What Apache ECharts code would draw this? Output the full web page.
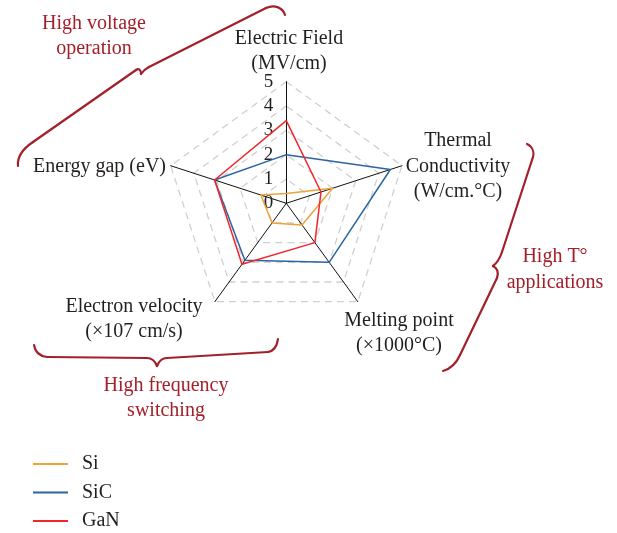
<!DOCTYPE html>
<html>
<head>
<meta charset="utf-8">
<script src="https://cdn.jsdelivr.net/npm/echarts@6/dist/echarts.min.js"></script>
<style>
  html, body { margin: 0; padding: 0; background: #fff; }
  #chart { width: 617px; height: 533px; }
</style>
</head>
<body>
<div id="chart"></div>
<script>
// Radar axes, listed counter-clockwise from the top spoke
const indicators = ['Electric Field', 'Energy gap', 'Electron velocity', 'Melting point', 'Thermal Conductivity'];
const axisMax = 5;
const tickValues = [0, 1, 2, 3, 4, 5];

// Material properties (same order as indicators)
const materials = ['Si', 'SiC', 'GaN'];
const siValues  = [0.4, 1.1, 1.0, 1.1, 2.0];
const sicValues = [2.0, 3.1, 2.9, 3.0, 4.5];
const ganValues = [3.4, 3.1, 3.1, 2.0, 1.5];

// Axis titles (multi-line) and application groups
const axisTitles = {
  'Electric Field': ['Electric Field', '(MV/cm)'],
  'Energy gap': ['Energy gap (eV)'],
  'Electron velocity': ['Electron velocity', '(\u00d7107 cm/s)'],
  'Melting point': ['Melting point', '(\u00d71000\u00b0C)'],
  'Thermal Conductivity': ['Thermal', 'Conductivity', '(W/cm.\u00b0C)']
};
const groupTitles = {
  voltage: ['High voltage', 'operation'],
  temperature: ['High T\u00b0', 'applications'],
  frequency: ['High frequency', 'switching']
};

const colors = { Si: '#f0a23a', SiC: '#2b65a0', GaN: '#f0262a' };
const accent = '#a3202a';
const ink = '#231f20';
const FONT = '"Liberation Serif", "DejaVu Serif", serif';

const cx = 286.3, cy = 203.3, R = 121.6;

function textBlock(lines, x, y, opts) {
  const lh = (opts && opts.lineHeight) || 24.5;
  return lines.map((t, i) => ({
    type: 'text',
    x: x,
    y: y + i * lh,
    silent: true,
    style: {
      text: t,
      font: '20px ' + FONT,
      fill: (opts && opts.fill) || ink,
      align: (opts && opts.align) || 'center',
      verticalAlign: 'middle'
    }
  }));
}

// Curly brace built from straight and cubic segments
function brace(segs) {
  const out = [];
  const style = { fill: 'none', stroke: accent, lineWidth: 2.2, lineCap: 'round' };
  let px = 0, py = 0;
  segs.forEach(s => {
    if (s[0] === 'M') { px = s[1]; py = s[2]; return; }
    if (s[0] === 'L') {
      out.push({ type: 'line', silent: true, shape: { x1: px, y1: py, x2: s[1], y2: s[2] }, style: style });
      px = s[1]; py = s[2];
    } else if (s[0] === 'C') {
      out.push({ type: 'bezierCurve', silent: true,
        shape: { x1: px, y1: py, cpx1: s[1], cpy1: s[2], cpx2: s[3], cpy2: s[4], x2: s[5], y2: s[6] },
        style: style });
      px = s[5]; py = s[6];
    }
  });
  return out;
}

const graphics = []
  .concat(textBlock(axisTitles['Electric Field'], 289, 39))
  .concat(textBlock(axisTitles['Energy gap'], 166, 167, { align: 'right' }))
  .concat(textBlock(axisTitles['Electron velocity'], 134, 307))
  .concat(textBlock(axisTitles['Melting point'], 399, 321))
  .concat(textBlock(axisTitles['Thermal Conductivity'], 458, 141, { lineHeight: 25.5 }))
  .concat(textBlock(groupTitles.voltage, 94, 24, { fill: accent }))
  .concat(textBlock(groupTitles.temperature, 555, 257, { fill: accent, lineHeight: 26 }))
  .concat(textBlock(groupTitles.frequency, 166, 386, { fill: accent }))
  // brace above the energy gap / electric field corner
  .concat(brace([['M', 18, 166], ['C', 17, 156, 24, 148, 33, 142], ['L', 136, 70],
                 ['C', 139, 68, 141, 70, 141, 74], ['C', 143, 71, 145, 69, 149, 67],
                 ['L', 266, 8], ['C', 275, 4, 283, 8, 285, 15]]))
  // brace beside thermal conductivity / melting point
  .concat(brace([['M', 527, 144], ['C', 533, 147, 535, 153, 532, 160], ['L', 502, 252],
                 ['C', 500, 258, 497, 263, 493, 266], ['C', 497, 268, 499, 272, 497, 278],
                 ['L', 460, 355], ['C', 456, 364, 450, 369, 443, 371]]))
  // brace under electron velocity
  .concat(brace([['M', 34, 345], ['C', 35, 352, 39, 356, 47, 357], ['L', 147, 358],
                 ['C', 152, 358, 155, 361, 157, 366], ['C', 159, 361, 162, 358, 167, 358],
                 ['L', 268, 352], ['C', 274, 351, 277, 346, 278, 339]]));

const chart = echarts.init(document.getElementById('chart'), null, { renderer: 'canvas' });

chart.setOption({
  backgroundColor: '#ffffff',
  animation: false,
  color: [colors.Si, colors.SiC, colors.GaN],
  legend: {
    data: materials,
    orient: 'vertical',
    left: 33,
    top: 453.5,
    height: 79,
    padding: 0,
    itemWidth: 35,
    itemHeight: 2,
    itemGap: 7.5,
    icon: 'rect',
    textStyle: { fontFamily: FONT, fontSize: 20, color: ink, padding: [0, 0, 0, 9], lineHeight: 21 }
  },
  radar: {
    center: [cx, cy],
    radius: R,
    startAngle: 90,
    shape: 'polygon',
    splitNumber: 5,
    indicator: indicators.map(n => ({ name: n, min: 0, max: axisMax })),
    axisName: { show: false },
    axisLine: { lineStyle: { color: '#111', width: 1 } },
    splitLine: { lineStyle: { color: '#d0d0d0', width: 1.3, type: [7, 5] } },
    splitArea: { show: false }
  },
  // value scale printed along the top spoke
  grid: { left: cx, top: cy - R, width: 1, height: R },
  xAxis: { type: 'value', show: false },
  yAxis: {
    type: 'value',
    min: 0,
    max: axisMax,
    interval: 1,
    axisLine: { show: false },
    axisTick: { show: false },
    splitLine: { show: false },
    axisLabel: {
      margin: 13,
      fontFamily: FONT,
      fontSize: 19,
      color: ink,
      formatter: v => tickValues.indexOf(v) >= 0 ? String(v) : ''
    }
  },
  graphic: graphics,
  series: [
    {
      type: 'radar',
      symbol: 'none',
      silent: true,
      data: [
        { name: 'Si', value: siValues, lineStyle: { color: colors.Si, width: 1.5 } },
        { name: 'SiC', value: sicValues, lineStyle: { color: colors.SiC, width: 1.5 } },
        { name: 'GaN', value: ganValues, lineStyle: { color: colors.GaN, width: 1.5 } }
      ]
    }
  ]
});
</script>
</body>
</html>
